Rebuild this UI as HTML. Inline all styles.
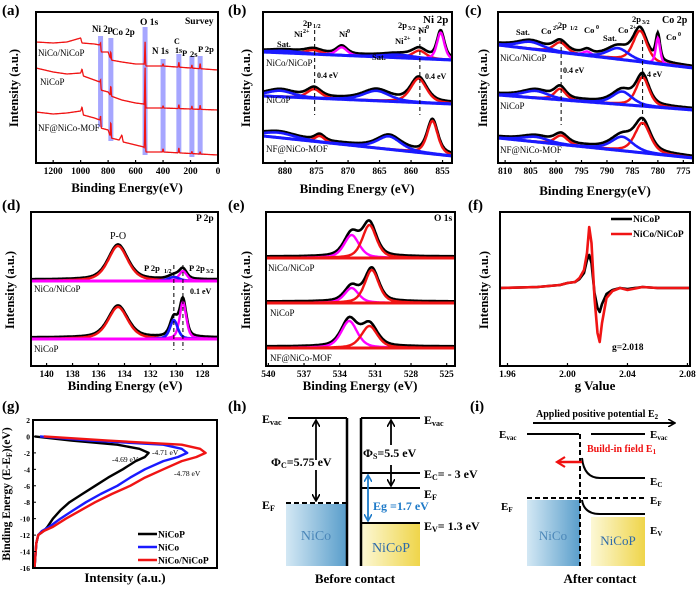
<!DOCTYPE html>
<html><head><meta charset="utf-8"><style>
html,body{margin:0;padding:0;background:#fff}
svg{display:block;font-family:"Liberation Serif",serif;font-weight:bold}
</style></head><body>
<svg id="fig" width="700" height="589" viewBox="0 0 700 589" xmlns="http://www.w3.org/2000/svg">
<defs>
<linearGradient id="gBlue" x1="0" x2="1" y1="0" y2="0"><stop offset="0" stop-color="#d3e8f4"/><stop offset="1" stop-color="#5a9ecb"/></linearGradient>
<linearGradient id="gYel" x1="0" x2="1" y1="0" y2="0"><stop offset="0" stop-color="#fcf8d6"/><stop offset="1" stop-color="#efd54a"/></linearGradient>
<marker id="ah" markerWidth="8" markerHeight="8" refX="6" refY="4" orient="auto" markerUnits="userSpaceOnUse"><path d="M0,0 L7,4 L0,8" fill="none" stroke="#000" stroke-width="1.6"/></marker>
<marker id="ahb" markerWidth="8" markerHeight="8" refX="6" refY="4" orient="auto" markerUnits="userSpaceOnUse"><path d="M0,0 L7,4 L0,8" fill="none" stroke="#1e7ac8" stroke-width="1.6"/></marker>
<marker id="ahr" markerWidth="12" markerHeight="12" refX="9" refY="6" orient="auto" markerUnits="userSpaceOnUse"><path d="M1,1 L9,6 L1,11" fill="none" stroke="#f01010" stroke-width="2.2"/></marker>
</defs>

<!-- panel (h) -->
<g font-size="12">
<rect x="286" y="504" width="60" height="62" fill="url(#gBlue)"/>
<text x="316" y="540" text-anchor="middle" fill="#4a86b8" font-weight="normal" font-size="14">NiCo</text>
<rect x="361" y="523" width="59" height="43" fill="url(#gYel)"/>
<text x="391" y="552" text-anchor="middle" fill="#2e6aa8" font-weight="normal" font-size="14">NiCoP</text>
<line x1="288" y1="418" x2="347" y2="418" stroke="#000" stroke-width="2"/>
<line x1="347" y1="418" x2="347" y2="566" stroke="#000" stroke-width="2.5"/>
<line x1="361" y1="418" x2="361" y2="566" stroke="#000" stroke-width="2.5"/>
<line x1="361" y1="418" x2="420" y2="418" stroke="#000" stroke-width="2"/>
<line x1="286" y1="503" x2="346" y2="503" stroke="#000" stroke-width="2" stroke-dasharray="5,3"/>
<line x1="361" y1="473" x2="420" y2="473" stroke="#000" stroke-width="2"/>
<line x1="361" y1="488" x2="420" y2="488" stroke="#000" stroke-width="2"/>
<line x1="361" y1="523" x2="420" y2="523" stroke="#000" stroke-width="2"/>
<line x1="316" y1="460" x2="316" y2="421" stroke="#000" stroke-width="1.8" marker-end="url(#ah)"/>
<line x1="316" y1="470" x2="316" y2="500" stroke="#000" stroke-width="1.8" marker-end="url(#ah)"/>
<line x1="391" y1="445" x2="391" y2="421" stroke="#000" stroke-width="1.8" marker-end="url(#ah)"/>
<line x1="391" y1="465" x2="391" y2="485" stroke="#000" stroke-width="1.8" marker-end="url(#ah)"/>
<line x1="368" y1="498" x2="368" y2="476" stroke="#1e7ac8" stroke-width="1.8" marker-end="url(#ahb)"/>
<line x1="368" y1="498" x2="368" y2="520" stroke="#1e7ac8" stroke-width="1.8" marker-end="url(#ahb)"/>
<text x="262" y="423">E<tspan font-size="8" dy="2">vac</tspan></text>
<text x="262" y="509">E<tspan font-size="8" dy="2">F</tspan></text>
<text x="271" y="466">Φ<tspan font-size="8" dy="2">C</tspan><tspan dy="-2">=5.75 eV</tspan></text>
<text x="363" y="457">Φ<tspan font-size="8" dy="2">S</tspan><tspan dy="-2">=5.5 eV</tspan></text>
<text x="373" y="510" fill="#1e7ac8">Eg =1.7 eV</text>
<text x="424" y="424">E<tspan font-size="8" dy="2">vac</tspan></text>
<text x="424" y="478">E<tspan font-size="8" dy="2">C</tspan><tspan dy="-2">= - 3 eV</tspan></text>
<text x="424" y="498">E<tspan font-size="8" dy="2">F</tspan></text>
<text x="424" y="530">E<tspan font-size="8" dy="2">V</tspan><tspan dy="-2">= 1.3 eV</tspan></text>
<text x="355" y="583" text-anchor="middle" font-size="13">Before contact</text>
</g>

<!-- panel (i) -->
<g font-size="11">
<rect x="527" y="500" width="53" height="66" fill="url(#gBlue)"/>
<text x="553" y="540" text-anchor="middle" fill="#4a86b8" font-weight="normal" font-size="13">NiCo</text>
<rect x="591" y="517" width="54" height="49" fill="url(#gYel)"/>
<text x="618" y="545" text-anchor="middle" fill="#2e6aa8" font-weight="normal" font-size="13">NiCoP</text>
<line x1="533" y1="423" x2="674" y2="423" stroke="#000" stroke-width="2" marker-end="url(#ah)"/>
<text x="536" y="417" font-size="10">Applied positive potential E<tspan font-size="7" dy="2">2</tspan></text>
<line x1="527" y1="434" x2="579" y2="434" stroke="#000" stroke-width="2"/>
<line x1="591" y1="434" x2="645" y2="434" stroke="#000" stroke-width="2"/>
<line x1="580" y1="434" x2="580" y2="566" stroke="#000" stroke-width="2" stroke-dasharray="5,3"/>
<line x1="527" y1="498" x2="645" y2="498" stroke="#000" stroke-width="2" stroke-dasharray="5,3"/>
<path d="M582,458 Q584,478 600,478 L645,478" fill="none" stroke="#000" stroke-width="2"/>
<path d="M582,500 Q584,514 600,514 L645,514" fill="none" stroke="#000" stroke-width="2"/>
<line x1="582" y1="462" x2="557" y2="462" stroke="#f01010" stroke-width="2.4" marker-end="url(#ahr)"/>
<text x="587" y="452" fill="#f01010" font-size="10">Build-in field E<tspan font-size="7" dy="2">1</tspan></text>
<text x="499" y="438">E<tspan font-size="7" dy="2">vac</tspan></text>
<text x="501" y="510">E<tspan font-size="7" dy="2">F</tspan></text>
<text x="650" y="438">E<tspan font-size="7" dy="2">vac</tspan></text>
<text x="650" y="485">E<tspan font-size="7" dy="2">C</tspan></text>
<text x="650" y="504">E<tspan font-size="7" dy="2">F</tspan></text>
<text x="650" y="534">E<tspan font-size="7" dy="2">V</tspan></text>
<text x="600" y="583" text-anchor="middle" font-size="13">After contact</text>
</g>
</svg>
<script>
// ---------- data ----------
const aTicks=[1200,1000,800,600,400,200,0];
const bTicks=[880,875,870,865,860,855];
const cTicks=[810,805,800,795,790,785,780,775];
const dTicks=[140,138,136,134,132,130,128];
const eTicks=[540,537,534,531,528,525];
const fTicks=[1.96,2.00,2.04,2.08];
const gTicks=[2,0,-2,-4,-6,-8,-10,-12,-14,-16];
// survey backgrounds [eV, level] and peaks [eV, height]
const aTopBg=[[1325,42],[1200,43],[1100,42],[1000,38],[990,43],[900,44],[860,45],[855,52],[800,52],[780,60],[700,62],[600,64],[540,64],[530,66],[400,66],[0,70]];
const aMidBg=[[1325,68],[1200,72],[1100,74],[1000,73],[990,69],[980,76],[900,80],[860,82],[855,90],[800,92],[780,96],[700,100],[600,103],[540,104],[530,108],[400,108],[0,110]];
const aBotBg=[[1325,112],[1200,114],[1100,113],[1000,111],[990,107],[980,115],[900,118],[860,120],[855,128],[800,130],[780,138],[720,140],[700,135],[690,142],[600,145],[540,147],[530,152],[400,152],[0,155]];
const aTopPk=[[531,24],[855,9],[780,8],[285,5],[190,3],[130,5],[400,2]];
const aMidPk=[[531,40],[855,10],[780,10],[285,4],[190,3],[130,4],[400,2]];
const aBotPk=[[531,50],[855,12],[780,16],[285,5],[190,2],[130,2],[400,3]];
// XPS components: [center eV, height, width eV, component type]
const bTop=[[880,2,3,'b'],[875.5,4,1.5,'r'],[871,8,1,'m'],[862,3,3,'b'],[858.7,8,1.3,'r'],[855.3,27,0.7,'m']];
const bMid=[[880.8,6,2.5,'b'],[875.4,9,1.3,'r'],[865.5,10,2.5,'b'],[858.8,24,1.5,'r']];
const bBot=[[881,5,3,'b'],[874.5,6,0.9,'r'],[863.5,13,2.2,'b'],[856.6,33,1,'r']];
const cTop=[[805,7,3,'b'],[799.2,10,1.5,'r'],[793.9,4,1,'m'],[787.8,11,2.5,'b'],[783.5,31,1.6,'r'],[780,26,0.5,'m']];
const cMid=[[804,7,3,'b'],[799.2,11,1.3,'r'],[787,13,2.3,'b'],[783,29,1.5,'r']];
const cBot=[[804,5,3,'b'],[799,9,1.5,'r'],[787,14,2.5,'b'],[783,30,1.8,'r']];
const dTop=[[134.5,35,0.9,'r'],[130.2,4,0.5,'b'],[129.5,10,0.35,'m']];
const dBot=[[134.5,32,0.9,'r'],[130.2,19,0.35,'b'],[129.5,37,0.3,'m']];
const eTop=[[533,23,0.75,'m'],[531.5,33,0.7,'r']];
const eMid=[[533,15,0.7,'m'],[531.3,33,0.7,'r']];
const eBot=[[533.2,27,0.8,'m'],[531.5,22,0.8,'r']];
// EPR
const fG=[1.955,1.98,1.995,2.0,2.005,2.008,2.011,2.013,2.0145,2.016,2.018,2.020,2.0215,2.023,2.026,2.03,2.035,2.04,2.05,2.06,2.07,2.0817];
const fRed=[0,1,3,5,6,10,18,35,61,45,-10,-45,-54,-35,-10,-3,0,-2,1,0,0,0];
const fBlack=[0,1,3,5,6,9,15,28,33,25,-5,-20,-24,-16,-6,-2,0,-1,1,0,0,0];
// VB spectra (binding energy, intensity)
const gE=[0,-0.5,-1,-1.5,-2,-2.5,-3,-4,-5,-6,-7,-8,-9,-10,-11,-11.5,-12,-13,-16];
const gNiCoP=[0,20,45,57,62,60,55,48,40,33,26,19,14,10,7,5,2,1,0];
const gNiCo=[3,30,70,80,83,78,70,60,52,45,36,28,21,14,8,4,2,1,0];
const gHet=[5,40,80,90,93,88,80,70,60,52,42,33,25,17,10,5,2,1,0];

// ---------- helpers ----------
const NS='http://www.w3.org/2000/svg';
const svg=document.getElementById('fig');
const COL={r:'#f01414',b:'#1a1aff',m:'#ff00ff',k:'#000'};
function lin(d0,d1,r0,r1){return v=>r0+(v-d0)/(d1-d0)*(r1-r0);}
function mk(tag,attrs,parent){const e=document.createElementNS(NS,tag);for(const k in attrs)e.setAttribute(k,attrs[k]);(parent||svg).appendChild(e);return e;}
function txt(s,x,y,size,attrs){const t=mk('text',Object.assign({x:x,y:y,'font-size':size},attrs||{}));t.textContent=s;return t;}
function pathD(pts){return pts.map((p,i)=>(i?'L':'M')+p[0].toFixed(1)+','+p[1].toFixed(1)).join('');}
function peak(e,p){const u=(e-p[0])/p[2];return p[1]*(0.5*Math.exp(-0.693*u*u)+0.5/(1+u*u));}
function box(x0,y0,x1,y1,name){const r=mk('rect',{x:x0,y:y0,width:x1-x0,height:y1-y0,fill:'none',stroke:'#000','stroke-width':2});

}
function xTicks(ticks,sx,y1,fmt,name){ticks.forEach(t=>{const x=sx(t);mk('line',{x1:x,x2:x,y1:y1,y2:y1-3,stroke:'#000','stroke-width':1.2});
const l=txt(fmt?fmt(t):String(t),x,y1+11,9.5,{'text-anchor':'middle'});

});}
function ylab(s,x,y,sz){const t=txt(s,x,y,sz||12.5,{'text-anchor':'middle',transform:'rotate(-90 '+x+' '+y+')'});

return t;}
function xlab(s,x,y){const t=txt(s,x,y,13,{'text-anchor':'middle'});

}
function letter(s,x,y){const t=txt(s,x,y,15);

}
function xps(sx,e0,e1,bL,bR,peaks,name){
  const xa=sx(e0),xb=sx(e1),N=260,base=[],env=[],comps=peaks.map(()=>[]);
  for(let i=0;i<=N;i++){const e=e0+(e1-e0)*i/N,x=sx(e),yb=bL+(bR-bL)*(x-xa)/(xb-xa);
    let s=0;peaks.forEach((p,j)=>{const v=peak(e,p);s+=v;comps[j].push([x,yb-v]);});
    base.push([x,yb]);env.push([x,yb-s-1.5]);}
  const g=mk('g',{});
  
  
  const pe=mk('path',{d:pathD(env),fill:'none',stroke:'#000','stroke-width':2.6},g);
  
  
  peaks.forEach((p,j)=>{if(p[3]==='b')return;const c=mk('path',{d:pathD(comps[j]),fill:'none',stroke:COL[p[3]],'stroke-width':2.4},g);
    
    });
  peaks.forEach((p,j)=>{if(p[3]!=='b')return;const c=mk('path',{d:pathD(comps[j]),fill:'none',stroke:COL.b,'stroke-width':2.6},g);
    
    });
  const pb=mk('path',{d:pathD(base),fill:'none',stroke:COL.b,'stroke-width':3},g);
  
  
}
function interpBg(bg,e){for(let i=0;i<bg.length-1;i++){const a=bg[i],b=bg[i+1];if(e<=a[0]&&e>=b[0])return a[1]+(b[1]-a[1])*(a[0]-e)/(a[0]-b[0]);}return bg[bg.length-1][1];}

// ---------- (a) survey ----------
{const sx=lin(1325,0,36,218);
 const bars=[[855,36,127],[780,38,141],[531,27,155],[400,59,152],[285,54,153],[190,56,157],[130,56,155]];
 bars.forEach(b=>{const r=mk('rect',{x:sx(b[0])-2.5,y:b[1],width:5,height:b[2]-b[1],fill:'#6a6aff','fill-opacity':0.6});
   
   });
 [[aTopBg,aTopPk,'nico-nicop'],[aMidBg,aMidPk,'nicop'],[aBotBg,aBotPk,'nf-nico-mof']].forEach(s=>{
   const pts=[];for(let e=1325;e>=0;e-=2){let y=interpBg(s[0],e);s[1].forEach(p=>{const u=(e-p[0])/3;y-=p[1]*Math.exp(-u*u);});pts.push([sx(e),y]);}
   const p=mk('path',{d:pathD(pts),fill:'none',stroke:'#f01414','stroke-width':1.3});
   
   });
 box(36,12,218,163,'panel-a-plot-area');xTicks(aTicks,sx,163,null,'panel-a');
 txt('Survey',185,24,9.5);txt('Ni 2p',92,32,9);txt('Co 2p',112,35,9);txt('O 1s',140,25,9.5);
 txt('N 1s',152,54,9);txt('C',174,44,8);txt('1s',175,53,8);txt('P',182,56,8.5);txt('2s',190,57,8.5);txt('P 2p',198,52,8.5);
 txt('NiCo/NiCoP',38,56,9,{'font-weight':'normal'});txt('NiCoP',40,85,9,{'font-weight':'normal'});txt('NF@NiCo-MOF',38,131,9,{'font-weight':'normal'});
 xlab('Binding Energy(eV)',127,192);ylab('Intensity (a.u.)',18,88);letter('(a)',2,15);}

// ---------- (b) Ni 2p ----------
{const sx=lin(883.5,853.5,263,452);
 xps(sx,883.5,853.5,52,60,bTop,'ni2p-nico-nicop');xps(sx,883.5,853.5,96,104,bMid,'ni2p-nicop');xps(sx,883.5,853.5,136,156,bBot,'ni2p-nf-nico-mof');
 box(263,12,452,163,'panel-b-plot-area');xTicks(bTicks,sx,163,null,'panel-b');
 txt('Ni 2p',423,23,11);txt('Sat.',277,47,8.5);txt('Ni',294,37,8.5);txt('2+',303,33,6);txt('2p',303,26,8.5);txt('1/2',313,28,6);
 txt('Ni',339,37,8.5);txt('0',347,33,6);txt('Sat.',372,60,8.5);txt('2p',398,28,8.5);txt('3/2',408,30,6);txt('Ni',395,44,8.5);txt('2+',404,40,6);txt('Ni',418,33,8.5);txt('0',426,29,6);
 txt('0.4 eV',317,78,8);txt('0.4 eV',425,79,8);
 [sx(875.3),sx(858.6)].forEach(x=>mk('line',{x1:x,x2:x,y1:30,y2:115,stroke:'#000','stroke-width':1,'stroke-dasharray':'4,3'}));
 txt('NiCo/NiCoP',266,66,9,{'font-weight':'normal'});txt('NiCoP',266,103,9,{'font-weight':'normal'});txt('NF@NiCo-MOF',266,152,9,{'font-weight':'normal'});
 xlab('Binding Energy (eV)',357,193);ylab('Intensity (a.u.)',250,88);letter('(b)',228,15);}

// ---------- (c) Co 2p ----------
{const sx=lin(811.4,773.1,498,693);
 xps(sx,811.4,773.1,45,68,cTop,'co2p-nico-nicop');xps(sx,811.4,773.1,95,110,cMid,'co2p-nicop');xps(sx,811.4,773.1,138,158,cBot,'co2p-nf-nico-mof');
 box(498,12,693,163,'panel-c-plot-area');xTicks(cTicks,sx,163,null,'panel-c');
 txt('Co 2p',662,23,10);txt('Sat.',516,35,8.5);txt('Co',541,34,8.5);txt('2+',553,30,6);txt('-2p',555,28,8.5);txt('1/2',570,30,6);
 txt('Co',584,33,8.5);txt('0',596,29,6);txt('Sat.',603,41,8.5);txt('Co',618,33,8.5);txt('2+',630,29,6);txt('2p',632,22,8.5);txt('3/2',642,24,6);txt('Co',666,40,8.5);txt('0',678,36,6);
 txt('0.4 eV',563,73,8);txt('0.4 eV',641,77,8);
 [sx(799),sx(783)].forEach(x=>mk('line',{x1:x,x2:x,y1:40,y2:125,stroke:'#000','stroke-width':1,'stroke-dasharray':'4,3'}));
 txt('NiCo/NiCoP',500,61,9,{'font-weight':'normal'});txt('NiCoP',500,109,9,{'font-weight':'normal'});txt('NF@NiCo-MOF',500,153,9,{'font-weight':'normal'});
 xlab('Binding Energy(eV)',595,195);ylab('Intensity (a.u.)',487,88);letter('(c)',465,15);}

// ---------- (d) P 2p ----------
{const sx=lin(141.2,126.8,31,218);
 xps(sx,141.2,126.8,281,281,dTop,'p2p-nico-nicop');xps(sx,141.2,126.8,339,339,dBot,'p2p-nicop');
 mk('path',{d:pathD([[31,281],[218,281]]),stroke:COL.m,'stroke-width':3});mk('path',{d:pathD([[31,339],[218,339]]),stroke:COL.m,'stroke-width':3});
 box(31,212,218,366,'panel-d-plot-area');xTicks(dTicks,sx,366,null,'panel-d');
 [sx(130.2),sx(129.5)].forEach(x=>mk('line',{x1:x,x2:x,y1:265,y2:350,stroke:'#000','stroke-width':1,'stroke-dasharray':'4,3'}));
 txt('P 2p',196,221,9.5);txt('P-O',110,239,10,{'font-weight':'normal'});txt('P 2p',144,271,8.5);txt('1/2',164,273,6);txt('P 2p',189,271,8.5);txt('3/2',206,273,6);
 txt('0.1 eV',190,294,8);txt('NiCo/NiCoP',34,292,9,{'font-weight':'normal'});txt('NiCoP',34,352,9,{'font-weight':'normal'});
 xlab('Binding Energy (eV)',125,390);ylab('Intensity (a.u.)',14,290);letter('(d)',2,210);}

// ---------- (e) O 1s ----------
{const sx=lin(540.2,524.3,266,455);
 xps(sx,540.2,524.3,258,258,eTop,'o1s-nico-nicop');xps(sx,540.2,524.3,303,303,eMid,'o1s-nicop');xps(sx,540.2,524.3,348,348,eBot,'o1s-nf-nico-mof');
 [258,303,348].forEach(y=>mk('path',{d:pathD([[266,y],[455,y]]),stroke:COL.r,'stroke-width':3}));
 box(266,212,455,366,'panel-e-plot-area');xTicks(eTicks,sx,366,null,'panel-e');
 txt('O 1s',434,221,9.5);txt('NiCo/NiCoP',268,271,9,{'font-weight':'normal'});txt('NiCoP',270,316,9,{'font-weight':'normal'});txt('NF@NiCo-MOF',270,361,9,{'font-weight':'normal'});
 xlab('Binding Energy (eV)',360,390);ylab('Intensity (a.u.)',250,290);letter('(e)',228,210);}

// ---------- (f) EPR ----------
{const sx=lin(1.955,2.0817,500,690),sy=v=>288-v;
 [[fBlack,'#000','epr-nicop'],[fRed,'#f01414','epr-nico-nicop']].forEach(s=>{
   const p=mk('path',{d:pathD(fG.map((g,i)=>[sx(g),sy(s[0][i])])),fill:'none',stroke:s[1],'stroke-width':2.6,'stroke-linejoin':'round'});
   
   });
 box(500,212,690,366,'panel-f-plot-area');xTicks(fTicks,sx,366,v=>v.toFixed(2),'panel-f');
 mk('line',{x1:611,x2:632,y1:219,y2:219,stroke:'#000','stroke-width':2.6});txt('NiCoP',633,222,9.5);
 mk('line',{x1:611,x2:632,y1:234,y2:234,stroke:'#f01414','stroke-width':2.6});txt('NiCo/NiCoP',633,237,9.5);
 txt('g=2.018',612,350,9.5);xlab('g Value',595,390);ylab('Intensity (a.u.)',488,290);letter('(f)',468,210);}

// ---------- (g) VB ----------
{const sx=lin(0,100,33,217),sy=lin(2,-16,420,568);
 [[gNiCoP,'#000','vb-nicop'],[gNiCo,'#1a1aff','vb-nico'],[gHet,'#f01414','vb-nico-nicop']].forEach(s=>{
   const p=mk('path',{d:pathD(gE.map((e,i)=>[sx(s[0][i])+1.5,sy(e)])),fill:'none',stroke:s[1],'stroke-width':2.4,'stroke-linejoin':'round'});
   
   });
 box(33,420,217,568,'panel-g-plot-area');
 gTicks.forEach(t=>{const y=sy(t);mk('line',{x1:33,x2:36,y1:y,y2:y,stroke:'#000','stroke-width':1});const l=txt(String(t),30,y+3,7.5,{'text-anchor':'end'});
   
   });
 txt('-4.69 eV',112,462,7.5,{'font-weight':'normal'});txt('-4.71 eV',152,455,7.5,{'font-weight':'normal'});txt('-4.78 eV',174,476,7.5,{'font-weight':'normal'});
 [['#000','NiCoP',534],['#1a1aff','NiCo',547],['#f01414','NiCo/NiCoP',560]].forEach(l=>{mk('line',{x1:138,x2:157,y1:l[2],y2:l[2],stroke:l[0],'stroke-width':2.6});txt(l[1],158,l[2]+3.5,9.5);});
 xlab('Intensity (a.u.)',125,582);
 const yl=ylab('',10,494,11.5);
 yl.textContent='';
 const t1=document.createElementNS(NS,'tspan');t1.textContent='Binding Energy (E-E';yl.appendChild(t1);
 const t2=document.createElementNS(NS,'tspan');t2.setAttribute('font-size','8');t2.setAttribute('dy','2');t2.textContent='F';yl.appendChild(t2);
 const t3=document.createElementNS(NS,'tspan');t3.setAttribute('dy','-2');t3.textContent=')(eV)';yl.appendChild(t3);
 letter('(g)',2,411);}
letter('(h)',228,411);letter('(i)',470,411);
</script>
</body></html>
